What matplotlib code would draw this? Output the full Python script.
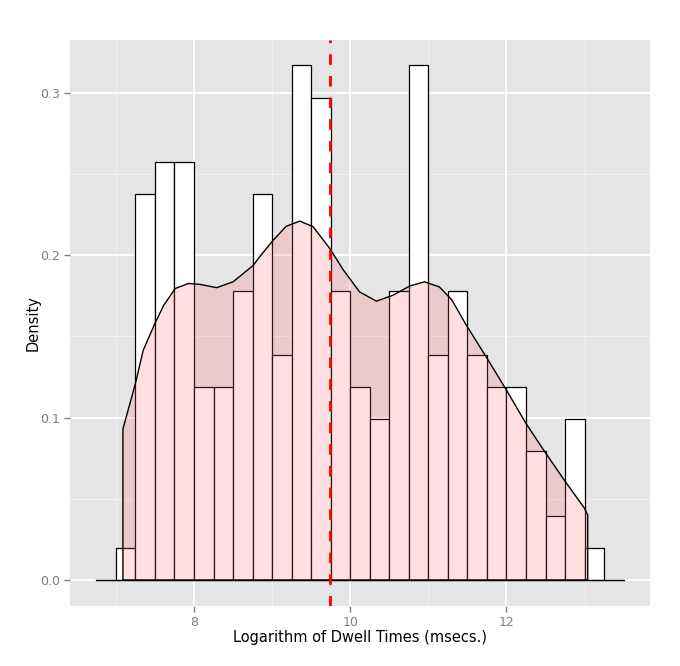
import matplotlib
matplotlib.use("Agg")
import matplotlib.pyplot as plt
import numpy as np

# Histogram counts, bin width 0.25, starting at 6.75
bin_left = [6.75, 7.0, 7.25, 7.5, 7.75, 8.0, 8.25, 8.5, 8.75, 9.0, 9.25, 9.5, 9.75,
            10.0, 10.25, 10.5, 10.75, 11.0, 11.25, 11.5, 11.75, 12.0, 12.25, 12.5,
            12.75, 13.0, 13.25]
bin_count = [0, 1, 12, 13, 13, 6, 6, 9, 12, 7, 16, 15, 9,
             6, 5, 9, 16, 7, 9, 7, 6, 6, 4, 2,
             5, 1, 0]
bin_width = 0.25

# Kernel density curve
dens_x = [7.09, 7.25, 7.35, 7.50, 7.61, 7.76, 7.93, 8.08, 8.29, 8.50, 8.76, 8.84,
          9.01, 9.18, 9.355, 9.525, 9.74, 9.91, 10.12, 10.335, 10.55, 10.76, 10.95,
          11.14, 11.30, 11.485, 11.74, 12.00, 12.25, 12.49, 12.74, 13.00, 13.04]
dens_y = [0.093, 0.121, 0.1415, 0.158, 0.169, 0.1795, 0.1826, 0.182, 0.180, 0.1836,
          0.1938, 0.199, 0.209, 0.2178, 0.221, 0.2175, 0.204, 0.191, 0.1774, 0.1717,
          0.1754, 0.181, 0.1836, 0.1805, 0.1725, 0.157, 0.1374, 0.1169, 0.0964,
          0.079, 0.0615, 0.0441, 0.040]

mean_value = 9.738

x_major = [8, 10, 12]
x_minor = [7, 9, 11, 13]
y_major = [0.0, 0.1, 0.2, 0.3]
y_minor = [0.05, 0.15, 0.25]
y_labels = ["0.0", "0.1", "0.2", "0.3"]

n_total = sum(bin_count)
bin_density = [c / (n_total * bin_width) for c in bin_count]

fig = plt.figure(figsize=(6.8, 6.66), dpi=100)
ax = fig.add_axes([70/680, 60/666, 580/680, 566/666])
ax.set_facecolor("#E5E5E5")
for s in ax.spines.values():
    s.set_visible(False)

# grid
for v in x_minor:
    ax.axvline(v, color="#F2F2F2", lw=0.7, zorder=0)
for v in y_minor:
    ax.axhline(v, color="#F2F2F2", lw=0.7, zorder=0)
for v in x_major:
    ax.axvline(v, color="white", lw=1.3, zorder=0)
for v in y_major:
    ax.axhline(v, color="white", lw=1.3, zorder=0)

# histogram
ax.bar(bin_left, bin_density, width=bin_width, align="edge", color="white",
       edgecolor="black", linewidth=0.9, zorder=2)
ax.plot([bin_left[0], bin_left[-1] + bin_width], [0, 0], color="black", lw=0.9, zorder=2)

# density polygon (closed to the baseline)
px = [dens_x[0]] + dens_x + [dens_x[-1]]
py = [0.0] + dens_y + [0.0]
ax.fill(px, py, facecolor="#FF6666", alpha=0.2, edgecolor="none", zorder=3)
ax.plot(px + [px[0]], py + [py[0]], color="black", lw=1.0, zorder=4,
        solid_joinstyle="round")

# mean line
ax.axvline(mean_value, color="#FF0000", lw=2.0, linestyle=(0, (3.8, 4.0)), zorder=5)

ax.set_xlim(6.4125, 13.8375)
ax.set_ylim(-0.016, 0.3325)
ax.set_xticks(x_major)
ax.set_xticklabels([str(v) for v in x_major])
ax.set_yticks(y_major)
ax.set_yticklabels(y_labels)
ax.tick_params(axis="both", colors="#7F7F7F", labelcolor="#7F7F7F", labelsize=9,
               length=4, width=1)
ax.tick_params(axis="x", pad=3)
ax.tick_params(axis="y", pad=3)

ax.set_xlabel("Logarithm of Dwell Times (msecs.)", fontsize=10.5, color="black", labelpad=1)
ax.set_ylabel("Density", fontsize=10.5, color="black", labelpad=0)

fig.savefig("out.png", dpi=100, facecolor="white")
